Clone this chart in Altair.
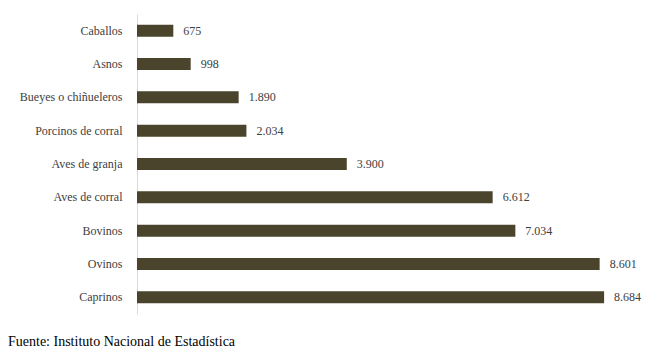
import altair as alt
import pandas as pd

categories = ["Caballos", "Asnos", "Bueyes o chiñueleros", "Porcinos  de  corral",
              "Aves de granja", "Aves de  corral", "Bovinos", "Ovinos", "Caprinos"]
values = [675, 998, 1890, 2034, 3900, 6612, 7034, 8601, 8684]
labels = ["675", "998", "1.890", "2.034", "3.900", "6.612", "7.034", "8.601", "8.684"]
source_note = "Fuente: Instituto Nacional de Estadística"

df = pd.DataFrame({"cat": categories, "val": values, "lab": labels})
FONT = "Liberation Serif"

base = alt.Chart(df).encode(
    y=alt.Y("cat:N", sort=categories,
            scale=alt.Scale(paddingInner=0.64, paddingOuter=0.32),
            axis=alt.Axis(title=None, ticks=False, domainColor="#d9d9d9",
                          labelFont=FONT, labelFontSize=12, labelColor="#404040",
                          labelPadding=15, grid=False)),
)

bars = base.mark_bar(color="#4b442d").encode(
    x=alt.X("val:Q", scale=alt.Scale(domain=[0, 9500], nice=False), axis=None)
)

text = base.mark_text(align="left", baseline="middle", dx=10, font=FONT,
                      fontSize=12, color="#404040").encode(
    x=alt.X("val:Q"), text="lab:N"
)

note = alt.Chart(pd.DataFrame({"t": [source_note]})).mark_text(
    align="left", baseline="middle", font=FONT, fontSize=14, color="#000000"
).encode(x=alt.value(-129), y=alt.value(328), text="t:N")

chart = alt.layer(bars, text, note).properties(
    width=511, height=300,
    autosize=alt.AutoSizeParams(type="none"),
    padding={"left": 129, "top": 6, "right": 12, "bottom": 38},
).configure(font=FONT).configure_view(stroke=None)

chart.save("out.html", embed_options={"renderer": "svg", "actions": False})
